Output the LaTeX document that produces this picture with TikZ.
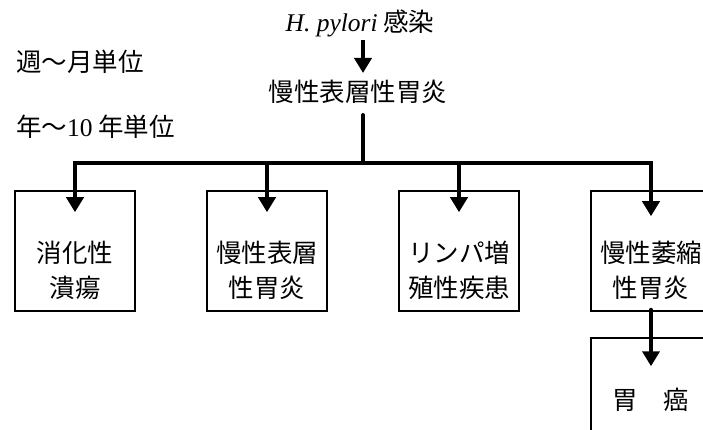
\documentclass[tikz,border=0pt]{standalone}
\usepackage{fontspec}
\setmainfont{Liberation Serif}
\newfontfamily\jp{Noto Sans CJK JP}
\usetikzlibrary{arrows.meta}
\begin{document}
\begin{tikzpicture}[x=1pt,y=-1pt,
  bus/.style={line width=4pt,line cap=rect},
  arr/.style={line width=4pt,-{Triangle[length=15pt,width=17pt]}},
  box/.style={draw,line width=1.5pt,minimum width=120pt,minimum height=120pt,inner sep=0pt},
  lbl/.style={inner sep=0pt,font=\fontsize{25.5}{35}\selectfont\jp,align=center}]
\useasboundingbox (0,0) rectangle (703,430);
\clip (0,0) rectangle (703,430);
% top texts
\node[lbl] (src) at (360,23) {{\rmfamily\itshape H. pylori} 感染};
\node[lbl] (csg) at (358,92) {慢性表層性胃炎};
\node[lbl,anchor=west] (w1) at (16,62) {週～月単位};
\node[lbl,anchor=west] (w2) at (16,127) {年～{\rmfamily 10} 年単位};
% boxes
\node[box] (b1) at (75,251) {};
\node[box] (b2) at (267,251) {};
\node[box] (b3) at (459,251) {};
\node[box] (b4) at (651,251) {};
\node[box] (b5) at (651,398) {};
\node[lbl] (t1) at (75,270) {消化性\\潰瘍};
\node[lbl] (t2) at (267,270) {慢性表層\\性胃炎};
\node[lbl] (t3) at (459,270) {リンパ増\\殖性疾患};
\node[lbl] (t4) at (651,270) {慢性萎縮\\性胃炎};
\node[lbl] (t5) at (651,400) {胃　癌};
% connectors
\coordinate (a1) at (363,40);
\coordinate (a2) at (363,73);
\draw[arr] (a1) -- (a2);
\coordinate (top) at (363,115);
\coordinate (j) at (363,163);
\draw[line width=4pt,line cap=round] (top) -- (j);
\coordinate (bl) at (75,163);
\coordinate (br) at (651,163);
\draw[bus] (bl) -- (br);
\draw[arr] (bl) -- ([yshift=-22pt]b1.north);
\draw[arr] (267,163) -- ([yshift=-22pt]b2.north);
\draw[arr] (459,163) -- ([yshift=-22pt]b3.north);
\draw[arr] (br) -- ([yshift=-26pt]b4.north);
\draw[arr,line cap=round] ([yshift=2pt]b4.south) -- ([yshift=-29pt]b5.north);
\end{tikzpicture}
\end{document}
